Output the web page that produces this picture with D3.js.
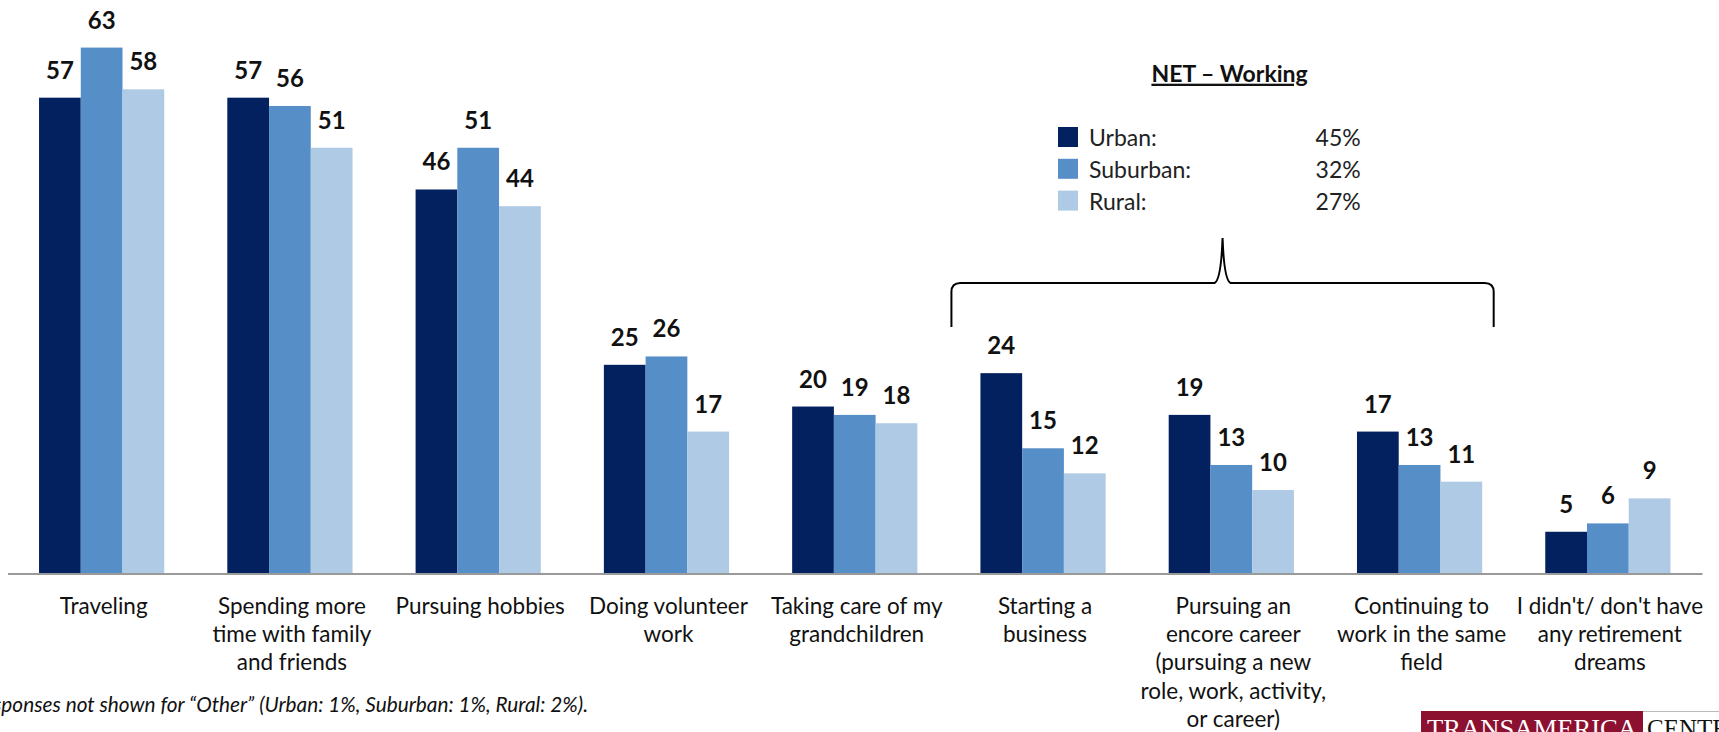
<!DOCTYPE html>
<html>
<head>
<meta charset="utf-8">
<script src="https://cdn.jsdelivr.net/npm/d3@7"></script>
<style>
  html, body { margin: 0; padding: 0; background: #fff; }
  svg { display: block; }
  text { font-family: Lato, "Noto Sans", sans-serif; fill: #111; }
</style>
</head>
<body>
<svg id="chart" width="1719" height="732"></svg>
<script>
// ---- data ----
const categories = [
  "Traveling",
  "Spending more time with family and friends",
  "Pursuing hobbies",
  "Doing volunteer work",
  "Taking care of my grandchildren",
  "Starting a business",
  "Pursuing an encore career (pursuing a new role, work, activity, or career)",
  "Continuing to work in the same field",
  "I didn't/ don't have any retirement dreams"
];
const categoryLines = [
  ["Traveling"],
  ["Spending more", "time with family", "and friends"],
  ["Pursuing hobbies"],
  ["Doing volunteer", "work"],
  ["Taking care of my", "grandchildren"],
  ["Starting a", "business"],
  ["Pursuing an", "encore career", "(pursuing a new", "role, work, activity,", "or career)"],
  ["Continuing to", "work in the same", "field"],
  ["I didn't/ don't have", "any retirement", "dreams"]
];
const seriesNames = ["Urban", "Suburban", "Rural"];
const urbanValues    = [57, 57, 46, 25, 20, 24, 19, 17, 5];
const suburbanValues = [63, 56, 51, 26, 19, 15, 13, 13, 6];
const ruralValues    = [58, 51, 44, 17, 18, 12, 10, 11, 9];
const seriesColors = ["#03215f", "#568ec8", "#afcae5"];
const netTitle = "NET \u2013 Working";
const netLabels = ["Urban:", "Suburban:", "Rural:"];
const netValues = ["45%", "32%", "27%"];
const bracedCategories = ["Starting a business", "Continuing to work in the same field"];
const footnote = "Note: Responses not shown for \u201COther\u201D (Urban: 1%, Suburban: 1%, Rural: 2%).";

const seriesValues = [urbanValues, suburbanValues, ruralValues];
const data = categories.map((c, i) => ({
  category: c,
  lines: categoryLines[i],
  values: seriesNames.map((s, j) => ({ series: s, value: seriesValues[j][i], idx: j }))
}));

// ---- layout ----
const svg = d3.select("#chart");
const x0 = d3.scaleBand().domain(categories).range([7.5, 1702]).paddingInner(0.335).paddingOuter(0.1675);
const x1 = d3.scaleBand().domain(seriesNames).range([0, x0.bandwidth()]);
const y = d3.scaleLinear().domain([0, 68.7]).range([573.5, 0]);
const color = d3.scaleOrdinal().domain(seriesNames).range(seriesColors);

// bars
const groups = svg.append("g").selectAll("g").data(data).join("g")
  .attr("transform", d => `translate(${x0(d.category)},0)`);
groups.selectAll("rect").data(d => d.values).join("rect")
  .attr("x", d => x1(d.series))
  .attr("y", d => y(d.value))
  .attr("width", x1.bandwidth())
  .attr("height", d => y(0) - y(d.value))
  .attr("fill", d => color(d.series));

// value labels
groups.selectAll("text.val").data(d => d.values).join("text")
  .attr("class", "val")
  .attr("x", d => x1(d.series) + x1.bandwidth() / 2)
  .attr("y", d => y(d.value) - 19)
  .attr("text-anchor", "middle")
  .style("font-weight", "bold")
  .style("font-size", "24px")
  .text(d => d.value);

// axis
const axis = svg.append("g").attr("transform", `translate(0,${y(0)})`)
  .call(d3.axisBottom(x0).tickSize(0).tickFormat(""));
axis.select(".domain").attr("stroke", "#9a9a9a").attr("stroke-width", 2);

// category labels
const catLabels = svg.append("g").selectAll("text").data(data).join("text")
  .attr("x", d => x0(d.category) + x0.bandwidth() / 2 + 2)
  .attr("y", 614)
  .attr("text-anchor", "middle")
  .style("font-size", "22.5px");
catLabels.selectAll("tspan").data(d => d.lines.map(l => ({ l, x: x0(d.category) + x0.bandwidth() / 2 + 2 }))).join("tspan")
  .attr("x", d => d.x)
  .attr("dy", (d, i) => i === 0 ? 0 : 28.2)
  .text(d => d.l);

// brace over working categories
const bl = x0(bracedCategories[0]) - 29;
const br = x0(bracedCategories[1]) + x0.bandwidth() + 11.5;
const bm = (bl + br) / 2;
const by = 283, bBottom = 327, bTop = 238, r = 9;
svg.append("path")
  .attr("d", `M${bl},${bBottom} L${bl},${by + r} Q${bl},${by} ${bl + r},${by} L${bm - 8},${by} Q${bm - 1.5},${by - 3} ${bm},${bTop} Q${bm + 1.5},${by - 3} ${bm + 8},${by} L${br - r},${by} Q${br},${by} ${br},${by + r} L${br},${bBottom}`)
  .attr("fill", "none").attr("stroke", "#000").attr("stroke-width", 2);

// legend / NET box
const leg = svg.append("g");
leg.append("text").attr("x", bm + 7).attr("y", 81.7).attr("text-anchor", "middle")
  .style("font-weight", "bold").style("font-size", "23px").style("text-decoration", "underline")
  .text(netTitle);
const rows = leg.selectAll("g.row").data(seriesNames).join("g").attr("class", "row")
  .attr("transform", (d, i) => `translate(1058,${127 + i * 31.8})`);
rows.append("rect").attr("width", 20).attr("height", 20).attr("fill", d => color(d));
rows.append("text").attr("x", 31).attr("y", 19).style("font-size", "23px").style("fill", "#222")
  .text((d, i) => netLabels[i]);
rows.append("text").attr("x", 302.7).attr("y", 19).attr("text-anchor", "end").style("font-size", "23px").style("fill", "#222")
  .text((d, i) => netValues[i]);

// footnote
svg.append("text").attr("x", 588).attr("y", 712).attr("text-anchor", "end")
  .style("font-style", "italic").style("font-size", "20.8px")
  .text(footnote);

// logo
const logo = svg.append("g");
logo.append("rect").attr("x", 1421).attr("y", 711).attr("width", 222).attr("height", 30).attr("fill", "#8c1131");
logo.append("line").attr("x1", 1643).attr("x2", 1719).attr("y1", 711.5).attr("y2", 711.5).attr("stroke", "#bbb");
logo.append("text").attr("x", 1532).attr("y", 737).attr("text-anchor", "middle")
  .style("font-family", "'Liberation Serif', 'DejaVu Serif', serif").style("font-size", "25px").style("fill", "#fff")
  .attr("textLength", 210).attr("lengthAdjust", "spacingAndGlyphs")
  .text("TRANSAMERICA");
logo.append("text").attr("x", 1647).attr("y", 737)
  .style("font-family", "'Liberation Serif', 'DejaVu Serif', serif").style("font-size", "25px").style("fill", "#111")
  .text("CENTER FOR RETIREMENT STUDIES");
</script>
</body>
</html>
